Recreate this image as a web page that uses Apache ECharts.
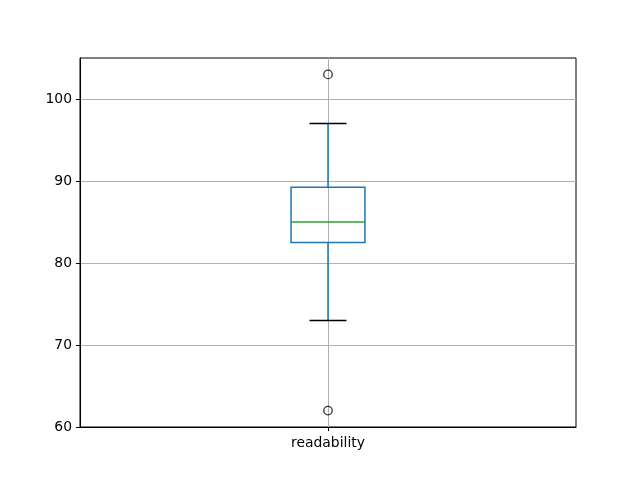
<!DOCTYPE html>
<html><head><meta charset="utf-8">
<script src="https://cdn.jsdelivr.net/npm/echarts@6/dist/echarts.min.js"></script>
<style>html,body{margin:0;padding:0;background:#fff}#c{width:640px;height:480px}</style>
</head><body><div id="c"></div>
<script>
const categories = ['readability'];
// [low whisker, Q1, median, Q3, high whisker]
const boxStats = [[73, 82.5, 85, 89.25, 97]];
const outliers = [[103], [62]];
const yTicks = [60, 70, 80, 90, 100];

const boxData = boxStats.map((s, i) => [i + 1].concat(s));
const outlierData = [];
outliers.forEach(o => o.forEach(v => outlierData.push([1, v])));
const chart = echarts.init(document.getElementById('c'), null, {renderer: 'canvas'});
const font = 'DejaVu Sans';
chart.setOption({
  animation: false,
  grid: {left: 80, right: 64, top: 58, bottom: 53, show: true, borderColor: '#000', borderWidth: 1, backgroundColor: 'transparent'},
  xAxis: {
    type: 'value', min: 0, max: 2, interval: 1,
    axisLine: {show: true, onZero: false, lineStyle: {color: '#000', width: 1}},
    axisTick: {show: true, length: 4, customValues: [1], lineStyle: {color: '#000'}},
    axisLabel: {customValues: [1], formatter: v => categories[Math.round(v) - 1] || '', color: '#000', fontFamily: font, fontSize: 13.9, margin: 9},
    splitLine: {show: true, lineStyle: {color: '#b0b0b0', width: 1}}
  },
  yAxis: {
    type: 'value', min: 60, max: 105, interval: 10,
    axisLine: {show: true, lineStyle: {color: '#000', width: 1}},
    axisTick: {show: true, length: 4, customValues: yTicks, lineStyle: {color: '#000'}},
    axisLabel: {customValues: yTicks, color: '#000', fontFamily: font, fontSize: 13.9, margin: 8},
    splitLine: {show: true, lineStyle: {color: '#b0b0b0', width: 1}}
  },
  series: [
    {
      type: 'custom',
      data: boxData,
      renderItem: function (params, api) {
        const x = api.value(0);
        const pLow = api.coord([x, api.value(1)]);
        const pQ1 = api.coord([x, api.value(2)]);
        const pMed = api.coord([x, api.value(3)]);
        const pQ3 = api.coord([x, api.value(4)]);
        const pHigh = api.coord([x, api.value(5)]);
        const unit = api.size([1, 0])[0];
        const bw = unit * 0.298;
        const cw = bw / 2;
        const cx = pQ1[0];
        const blue = '#1f77b4';
        return {
          type: 'group',
          children: [
            {type: 'line', shape: {x1: cx, y1: pLow[1], x2: cx, y2: pQ1[1]}, style: {stroke: blue, lineWidth: 1.5}},
            {type: 'line', shape: {x1: cx, y1: pQ3[1], x2: cx, y2: pHigh[1]}, style: {stroke: blue, lineWidth: 1.5}},
            {type: 'rect', shape: {x: cx - bw / 2, y: pQ3[1], width: bw, height: pQ1[1] - pQ3[1]}, style: {fill: 'none', stroke: blue, lineWidth: 1.5}},
            {type: 'line', shape: {x1: cx - bw / 2, y1: pMed[1], x2: cx + bw / 2, y2: pMed[1]}, style: {stroke: '#2ca02c', lineWidth: 1.5}},
            {type: 'line', shape: {x1: cx - cw / 2, y1: pLow[1], x2: cx + cw / 2, y2: pLow[1]}, style: {stroke: '#000', lineWidth: 1.5}},
            {type: 'line', shape: {x1: cx - cw / 2, y1: pHigh[1], x2: cx + cw / 2, y2: pHigh[1]}, style: {stroke: '#000', lineWidth: 1.5}}
          ]
        };
      },
      z: 3
    },
    {
      type: 'scatter',
      data: outlierData,
      symbol: 'circle',
      symbolSize: 8.5,
      itemStyle: {color: 'transparent', borderColor: '#000', borderWidth: 1.3},
      z: 4
    }
  ]
});
</script></body></html>
